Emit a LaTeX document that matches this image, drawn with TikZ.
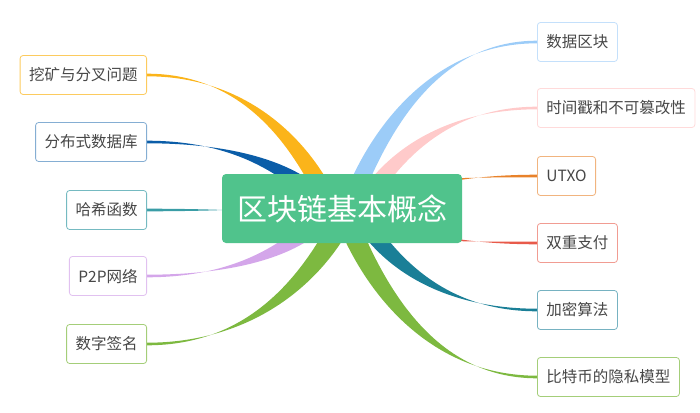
\documentclass[tikz,border=0pt]{standalone}
\usepackage{fontspec}
\setmainfont{Noto Sans CJK SC}
\begin{document}
\newcommand\br[8]{% color ex ey sx sy ox oy
 \pgfmathsetmacro\cax{#2+0.55*(#4-#2)}%
 \pgfmathsetmacro\cbx{#4-0.15*(#4-#2)}%
 \pgfmathsetmacro\cby{#5-0.45*(#5-#3)}%
 \fill[#1] (#2,#3-1.3) .. controls (\cax,#3-1.3) and (\cbx-#6,\cby-#7) .. (#4-#6,#5-#7) -- (#4+#6,#5+#7) .. controls (\cbx+#6,\cby+#7) and (\cax,#3+1.3) .. (#2,#3+1.3) -- cycle;}
\begin{tikzpicture}[x=1pt,y=-1pt,
 leaf/.style={draw=#1,fill=white,rounded corners=3pt,line width=0.8pt,minimum height=39pt,inner xsep=9pt,text=black!72,font=\fontsize{15.5}{18}\selectfont}]
\useasboundingbox (0,0) rectangle (700,412);
\definecolor{cOr}{HTML}{FBB41A}\definecolor{cBl}{HTML}{0B5DA8}\definecolor{cTe}{HTML}{3A9DA6}
\definecolor{cPu}{HTML}{D4A6EA}\definecolor{cGr}{HTML}{7DB940}\definecolor{cLb}{HTML}{9CCCF8}
\definecolor{cPk}{HTML}{FFCACA}\definecolor{cUo}{HTML}{E8822A}\definecolor{cRd}{HTML}{E85A4A}
\definecolor{cDt}{HTML}{1A7F97}
\br{cOr}{147}{75}{330}{205}{7}{-6}{}
\br{cBl}{147}{142}{320}{200}{4}{-8}{}
\br{cTe}{147}{210}{300}{210}{0}{-3}{}
\br{cPu}{147}{276}{320}{220}{-4}{-8}{}
\br{cGr}{147}{344}{345}{215}{-8}{-7}{}
\br{cLb}{537}{42}{350}{205}{-7}{-6}{}
\br{cPk}{537}{108}{360}{210}{-5}{-8}{}
\br{cUo}{537}{176}{420}{185}{0}{-3}{}
\br{cRd}{537}{243}{420}{235}{0}{-3}{}
\br{cDt}{537}{310}{360}{215}{5}{-8}{}
\br{cGr}{537}{377}{345}{215}{8}{-7}{}
\node[fill={rgb,255:red,80;green,195;blue,140},rounded corners=4pt,minimum width=240pt,minimum height=69pt,text=white,font=\fontsize{30}{34}\selectfont] (c) at (342,208.5) {区块链基本概念};
\node[leaf=cOr!70,anchor=east] (a1) at (147,75) {挖矿与分叉问题};
\node[leaf=cBl!50,anchor=east] (a2) at (147,142) {分布式数据库};
\node[leaf=cTe!70,anchor=east] (a3) at (147,210) {哈希函数};
\node[leaf=cPu!70,anchor=east] (a4) at (147,276) {P2P网络};
\node[leaf=cGr!70,anchor=east] (a5) at (147,344) {数字签名};
\node[leaf=cLb!60,anchor=west] (b1) at (537,42) {数据区块};
\node[leaf=cPk!70,anchor=west] (b2) at (537,108) {时间戳和不可篡改性};
\node[leaf=cUo!60,anchor=west] (b3) at (537,176) {UTXO};
\node[leaf=cRd!60,anchor=west] (b4) at (537,243) {双重支付};
\node[leaf=cDt!60,anchor=west] (b5) at (537,310) {加密算法};
\node[leaf=cGr!70,anchor=west] (b6) at (537,377) {比特币的隐私模型};
\end{tikzpicture}
\end{document}
